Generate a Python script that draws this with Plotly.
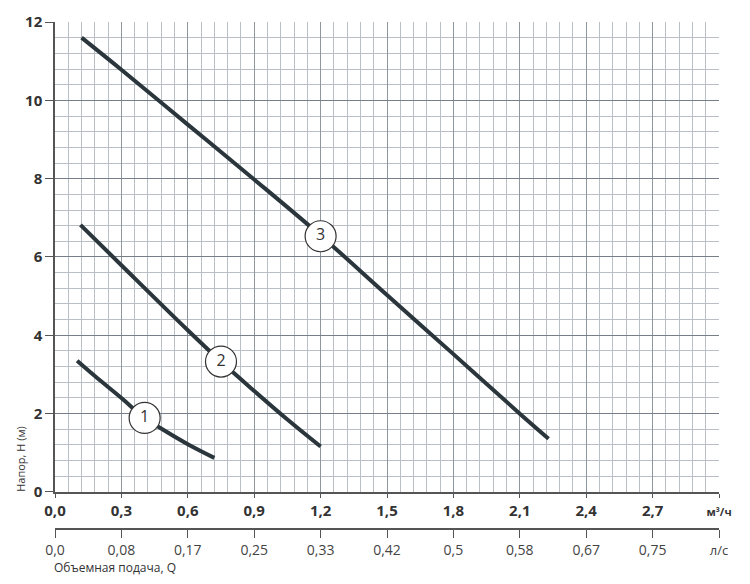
import plotly.graph_objects as go

# ---- data ----
q_m3h_ticks = [0.0, 0.3, 0.6, 0.9, 1.2, 1.5, 1.8, 2.1, 2.4, 2.7, 3.0]
q_m3h_labels = ['0,0', '0,3', '0,6', '0,9', '1,2', '1,5', '1,8', '2,1', '2,4', '2,7',
                '<span style="font-size:11px">м³/ч</span>']
q_ls_labels = ['0,0', '0,08', '0,17', '0,25', '0,33', '0,42', '0,5', '0,58', '0,67', '0,75',
               '<span style="font-size:13px">л/с</span>']
head_ticks = [0, 2, 4, 6, 8, 10, 12]

curve1_q = [0.10, 0.18, 0.30, 0.405, 0.50, 0.60, 0.72]
curve1_h = [3.35, 2.96, 2.40, 1.89, 1.55, 1.22, 0.87]
curve2_q = [0.115, 0.30, 0.60, 0.75, 0.90, 1.05, 1.20]
curve2_h = [6.82, 5.79, 4.13, 3.33, 2.58, 1.85, 1.16]
curve3_q = [0.12, 0.30, 0.60, 0.90, 1.20, 1.50, 1.80, 2.10, 2.23]
curve3_h = [11.60, 10.78, 9.38, 7.98, 6.55, 5.03, 3.52, 2.00, 1.36]

label_q = [0.405, 0.75, 1.20]
label_h = [1.89, 3.33, 6.53]
label_text = ['1', '2', '3']

FONT = 'Open Sans'
CURVE = '#2a363c'
TXT = '#333333'

fig = go.Figure()
for q, h in [(curve1_q, curve1_h), (curve2_q, curve2_h), (curve3_q, curve3_h)]:
    fig.add_trace(go.Scatter(x=q, y=h, mode='lines',
                             line=dict(color=CURVE, width=4, shape='spline', smoothing=1.0),
                             hoverinfo='skip', showlegend=False))
fig.add_trace(go.Scatter(x=label_q, y=label_h, mode='markers+text', text=label_text,
                         textposition='middle center',
                         textfont=dict(family=FONT, size=16, color=TXT),
                         marker=dict(size=31, color='white', line=dict(color='#333333', width=1.2)),
                         hoverinfo='skip', showlegend=False))
# invisible trace to carry the second (l/s) axis
fig.add_trace(go.Scatter(x=[None], y=[None], xaxis='x2', yaxis='y', showlegend=False,
                         hoverinfo='skip'))

fig.update_layout(
    width=742, height=576,
    margin=dict(l=47, r=31, t=14, b=55, autoexpand=False),
    paper_bgcolor='white', plot_bgcolor='white',
    font=dict(family=FONT, color=TXT),
    xaxis=dict(range=[0, 3], tickmode='array', tickvals=q_m3h_ticks, ticktext=q_m3h_labels,
               showgrid=True, gridcolor='#8f979e', gridwidth=1.3,
               minor=dict(tickmode='linear', tick0=0, dtick=0.06, showgrid=True,
                          gridcolor='#b9bfc5', gridwidth=1.1, ticks=''),
               showline=True, linecolor='#555555', linewidth=1.5,
               ticks='outside', ticklen=4, tickcolor='#555555',
               tickfont=dict(family=FONT, size=15, color=TXT, weight='bold'),
               zeroline=False, anchor='y', fixedrange=True, automargin=False),
    xaxis2=dict(range=[0, 3], overlaying='x', anchor='free', position=0, side='bottom',
                tickmode='array', tickvals=q_m3h_ticks, ticktext=q_ls_labels,
                showgrid=False, showline=True, linecolor='#555555', linewidth=1.5,
                ticks='outside', ticklen=8, tickcolor='#555555',
                tickfont=dict(family=FONT, size=14, color='#444444'),
                zeroline=False, fixedrange=True, automargin=False),
    yaxis=dict(range=[0, 12], domain=[0.073, 1], tickmode='array', tickvals=head_ticks,
               showgrid=True, gridcolor='#767f87', gridwidth=1.2,
               minor=dict(tickmode='linear', tick0=0, dtick=0.4, showgrid=True,
                          gridcolor='#b9bfc5', gridwidth=1.1, ticks=''),
               showline=True, linecolor='#555555', linewidth=1.5,
               ticks='outside', ticklen=8, tickcolor='#555555',
               tickfont=dict(family=FONT, size=15, color=TXT, weight='bold'),
               zeroline=False, fixedrange=True, automargin=False),
    annotations=[
        dict(text='Напор, H (м)', textangle=-90, xref='paper', yref='paper',
             x=-0.053, y=0.138, showarrow=False, xanchor='center', yanchor='middle',
             font=dict(family=FONT, size=11, color=TXT)),
        dict(text='Объемная подача, Q', xref='paper', yref='paper',
             x=-0.004, y=-0.076, showarrow=False, xanchor='left', yanchor='middle',
             font=dict(family=FONT, size=12, color=TXT)),
    ],
)

fig.write_html('out.html')
